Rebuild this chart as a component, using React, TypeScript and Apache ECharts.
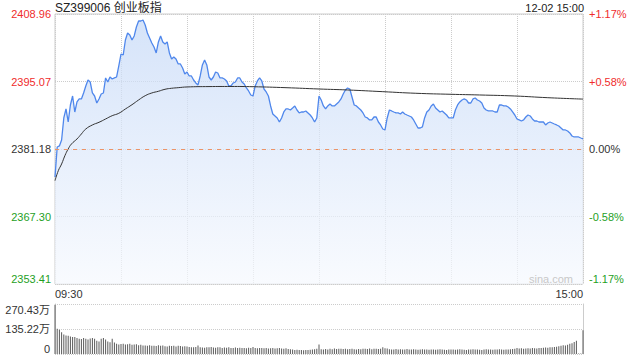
import React, { useEffect, useRef } from 'react';
import * as echarts from 'echarts';

const symbolTitle = 'SZ399006 创业板指';
const dateLabel = '12-02 15:00';
const watermark = 'sina.com';
const timeLabels = ['09:30', '15:00'];
const preClose = 2381.18;
const priceTicks = [2353.41, 2367.3, 2381.18, 2395.07, 2408.96];
const priceTickLabels = ['2353.41', '2367.30', '2381.18', '2395.07', '2408.96'];
const pctTickLabels = ['-1.17%', '-0.58%', '0.00%', '+0.58%', '+1.17%'];
const volTicks = [0, 135.215, 270.43];
const volTickLabels = ['0', '135.22万', '270.43万'];

const prices = [
  2375.43, 2381.6, 2381.81, 2383.04, 2387.57, 2389.42, 2386.74, 2390.24, 2392.09, 2388.8,
  2390.86, 2391.48, 2391.48, 2392.71, 2394.15, 2395.38, 2394.97, 2392.71, 2392.09, 2390.65,
  2391.48, 2392.5, 2392.71, 2395.8, 2394.97, 2396.0, 2395.59, 2395.8, 2396.0, 2398.27,
  2400.73, 2400.53, 2403.61, 2405.05, 2404.64, 2403.61, 2404.44, 2406.29, 2407.52, 2407.52,
  2407.73, 2406.7, 2405.05, 2404.03, 2403.0, 2402.17, 2400.94, 2403.2, 2404.44, 2403.2,
  2402.79, 2403.2, 2400.94, 2399.7, 2400.12, 2399.7, 2398.68, 2398.68, 2397.85, 2396.62,
  2397.03, 2396.21, 2396.21, 2395.38, 2394.77, 2394.36, 2396.21, 2398.47, 2399.5, 2398.47,
  2396.0, 2395.38, 2396.0, 2397.03, 2396.82, 2395.8, 2395.8, 2395.59, 2395.18, 2394.15,
  2394.15, 2394.77, 2394.97, 2395.8, 2395.8, 2394.97, 2394.56, 2393.74, 2393.12, 2392.3,
  2392.09, 2394.15, 2395.18, 2395.8, 2395.18, 2393.53, 2392.92, 2392.09, 2390.04, 2388.39,
  2387.98, 2387.57, 2386.74, 2387.57, 2388.8, 2389.42, 2389.42, 2389.21, 2389.62, 2390.04,
  2389.21, 2388.6, 2388.8, 2388.8, 2389.01, 2388.6, 2388.18, 2387.57, 2386.74, 2387.57,
  2392.09, 2391.27, 2390.04, 2389.42, 2390.04, 2390.45, 2390.04, 2390.04, 2390.45, 2390.86,
  2391.48, 2392.5, 2393.33, 2393.74, 2393.53, 2391.89, 2390.24, 2390.04, 2389.62, 2389.21,
  2388.6, 2387.77, 2387.57, 2387.16, 2387.16, 2387.77, 2387.77, 2386.74, 2386.13, 2385.3,
  2385.1, 2387.57, 2389.21, 2389.01, 2388.8, 2388.6, 2388.6, 2388.39, 2388.8, 2388.39,
  2388.18, 2387.98, 2387.77, 2387.16, 2386.33, 2385.51, 2385.51, 2385.72, 2387.57, 2388.8,
  2389.21, 2390.04, 2390.45, 2389.62, 2389.21, 2388.8, 2389.01, 2388.6, 2388.18, 2387.57,
  2387.57, 2387.57, 2389.21, 2390.24, 2390.86, 2391.27, 2391.48, 2391.27, 2390.65, 2390.65,
  2391.48, 2391.68, 2391.27, 2391.06, 2390.65, 2389.62, 2389.21, 2389.01, 2389.01, 2389.01,
  2388.8, 2388.8, 2390.24, 2390.24, 2390.04, 2390.04, 2389.83, 2389.42, 2388.8, 2388.18,
  2387.36, 2387.16, 2386.95, 2387.16, 2387.77, 2388.18, 2387.98, 2387.36, 2386.95, 2386.95,
  2386.74, 2386.74, 2386.74, 2386.13, 2386.54, 2386.74, 2386.54, 2386.33, 2386.13, 2385.92,
  2385.51, 2385.1, 2385.1, 2384.89, 2384.48, 2383.86, 2383.66, 2383.66, 2383.66, 2383.45,
  2383.25,
];

const avgMinutes = [0, 1.5, 3, 4.5, 6, 7.5, 10, 12, 14, 17, 20, 23, 26, 29, 32, 35, 38, 41, 44, 47, 50, 53, 56, 60, 70, 80, 90, 105, 120, 133, 149, 164, 180, 193, 209, 224, 240];
const avgPrices = [2374.67, 2376.72, 2378.1, 2379.81, 2381.19, 2382.22, 2383.25, 2384.28, 2385.3, 2386.13, 2386.68, 2387.36, 2388.04, 2388.53, 2389.42, 2390.3, 2391.27, 2392.15, 2392.71, 2393.06, 2393.47, 2393.68, 2393.8, 2393.95, 2394.03, 2394.05, 2394.0, 2393.8, 2393.53, 2393.33, 2392.98, 2392.65, 2392.44, 2392.3, 2392.09, 2391.74, 2391.45];

const volumes = [
  266, 136, 131, 118, 106, 100, 99, 94, 92, 92,
  87, 83, 81, 86, 83, 78, 84, 87, 82, 72,
  68, 83, 86, 78, 68, 63, 82, 62, 56, 52,
  54, 56, 52, 53, 55, 50, 51, 53, 48, 50,
  46, 46, 44, 47, 45, 45, 43, 48, 44, 46,
  42, 40, 44, 43, 45, 41, 44, 43, 40, 42,
  41, 38, 37, 36, 38, 46, 36, 35, 34, 37,
  36, 38, 35, 34, 36, 37, 33, 35, 34, 36,
  33, 32, 35, 33, 34, 32, 33, 31, 34, 33,
  38, 32, 31, 32, 33, 31, 32, 30, 31, 32,
  30, 31, 32, 30, 29, 31, 27, 26, 24, 22,
  23, 21, 22, 20, 22, 21, 23, 24, 26, 28,
  52, 26, 24, 27, 25, 28, 26, 30, 27, 28,
  29, 27, 28, 26, 27, 28, 26, 25, 27, 26,
  28, 29, 27, 30, 26, 28, 29, 27, 28, 36,
  31, 30, 26, 24, 25, 27, 25, 26, 24, 25,
  27, 25, 24, 26, 25, 23, 24, 26, 25, 24,
  23, 25, 24, 23, 25, 26, 24, 23, 22, 24,
  25, 24, 23, 25, 26, 24, 23, 22, 24, 25,
  26, 24, 25, 23, 22, 24, 26, 25, 24, 23,
  25, 24, 26, 25, 23, 24, 25, 26, 27, 28,
  33, 30, 31, 29, 30, 31, 30, 32, 31, 30,
  32, 33, 34, 35, 34, 36, 37, 38, 39, 42,
  44, 47, 46, 50, 55, 58, 65, 72, 3, 3,
  128,
];

const FONT = '"Liberation Sans", Arial, "Noto Sans CJK SC", sans-serif';
const RED = '#f02c2c';
const GREEN = '#1f9f1f';
const DARK = '#333333';
const GRID = '#cccccc';

const nearestIdx = (arr: number[], v: number) => {
  let best = 0;
  for (let i = 1; i < arr.length; i++) {
    if (Math.abs(arr[i] - v) < Math.abs(arr[best] - v)) best = i;
  }
  return best;
};
const tickColor = (v: any) => {
  const n = parseFloat(v);
  if (Math.abs(n - preClose) < 0.02) return DARK;
  return n > preClose ? RED : GREEN;
};

export default function App() {
  const ref = useRef<HTMLDivElement>(null);
  useEffect(() => {
    if (!ref.current) return;
    const chart = echarts.init(ref.current, undefined, { renderer: 'svg' });
    const pMin = priceTicks[0];
    const pMax = priceTicks[priceTicks.length - 1];
    const pInt = (pMax - pMin) / (priceTicks.length - 1);
    const vMax = volTicks[volTicks.length - 1];
    const option: any = {
      animation: false,
      textStyle: { fontFamily: FONT },
      graphic: [
        { type: 'text', x: 55, y: 8, style: { text: symbolTitle, fill: '#222', font: '12px ' + FONT, align: 'left', verticalAlign: 'middle' } },
        { type: 'text', x: 584, y: 8, style: { text: dateLabel, fill: '#222', font: '11px ' + FONT, align: 'right', verticalAlign: 'middle' } },
        { type: 'text', x: 573, y: 279, z: 10, style: { text: watermark, fill: '#c8c8c8', font: '11px ' + FONT, align: 'right', verticalAlign: 'middle' } },
      ],
      grid: [
        { left: 55, top: 14, width: 528, height: 270, show: true, borderColor: GRID, borderWidth: 1, backgroundColor: 'transparent' },
        { left: 55, top: 304, width: 528, height: 50 },
      ],
      xAxis: [
        {
          type: 'value', gridIndex: 0, min: 0, max: 240, interval: 30,
          axisLine: { show: false }, axisTick: { show: false },
          splitLine: { show: true, lineStyle: { color: GRID, type: 'dotted', width: 1 } },
          axisLabel: {
            margin: 4, fontSize: 11, color: DARK, fontFamily: FONT,
            formatter: (v: number) => (v === 0 ? timeLabels[0] : v === 240 ? timeLabels[1] : ''),
            alignMinLabel: 'left', alignMaxLabel: 'right',
          },
        },
        { type: 'value', gridIndex: 1, min: 0, max: 240, show: false },
      ],
      yAxis: [
        {
          type: 'value', gridIndex: 0, min: pMin, max: pMax, interval: pInt,
          axisLine: { show: false }, axisTick: { show: false },
          splitLine: { show: true, lineStyle: { color: GRID, type: 'dotted', width: 1 } },
          axisLabel: {
            margin: 4, fontSize: 11, fontFamily: FONT,
            formatter: (v: number) => priceTickLabels[nearestIdx(priceTicks, v)],
            color: tickColor,
            verticalAlignMinLabel: 'bottom', verticalAlignMaxLabel: 'top',
          },
        },
        {
          type: 'value', gridIndex: 0, position: 'right', min: pMin, max: pMax, interval: pInt,
          axisLine: { show: false }, axisTick: { show: false }, splitLine: { show: false },
          axisLabel: {
            margin: 6, fontSize: 11, fontFamily: FONT,
            formatter: (v: number) => pctTickLabels[nearestIdx(priceTicks, v)],
            color: tickColor,
            verticalAlignMinLabel: 'bottom', verticalAlignMaxLabel: 'top',
          },
        },
        {
          type: 'value', gridIndex: 1, min: 0, max: vMax, interval: vMax / 2,
          axisLine: { show: true, lineStyle: { color: GRID } }, axisTick: { show: false },
          splitLine: { show: true, lineStyle: { color: GRID, type: 'dotted', width: 1 } },
          axisLabel: {
            margin: 5, fontSize: 11, fontFamily: FONT, color: DARK,
            formatter: (v: number) => volTickLabels[nearestIdx(volTicks, v)],
            verticalAlignMinLabel: 'bottom', verticalAlignMaxLabel: 'top',
          },
        },
        {
          type: 'value', gridIndex: 1, position: 'right', min: 0, max: vMax, interval: vMax / 2,
          axisLine: { show: true, lineStyle: { color: GRID } }, axisTick: { show: false },
          splitLine: { show: false }, axisLabel: { show: false },
        },
      ],
      series: [
        {
          type: 'line', xAxisIndex: 0, yAxisIndex: 0,
          data: prices.map((p, i) => [i, p]),
          symbol: 'none', showSymbol: false,
          lineStyle: { color: '#4f87ec', width: 1.3 },
          areaStyle: {
            color: new echarts.graphic.LinearGradient(0, 0, 0, 1, [
              { offset: 0, color: '#c4d8f7' },
              { offset: 1, color: '#f6f9fe' },
            ]),
          },
          markLine: {
            silent: true, symbol: 'none', label: { show: false },
            lineStyle: { color: '#ec9468', type: [4, 5], width: 1, opacity: 1 },
            emphasis: { disabled: true },
            data: [{ yAxis: preClose }],
          },
          z: 2,
        },
        {
          type: 'line', xAxisIndex: 0, yAxisIndex: 0,
          data: avgMinutes.map((m, i) => [m, avgPrices[i]]),
          smooth: true, symbol: 'none', showSymbol: false,
          lineStyle: { color: '#333', width: 1 },
          z: 3,
        },
        {
          type: 'bar', xAxisIndex: 1, yAxisIndex: 2,
          data: volumes.map((v, i) => [i, v]),
          barWidth: 1, itemStyle: { color: '#5a5a5a' },
        },
      ],
    };
    chart.setOption(option);
    return () => chart.dispose();
  }, []);
  return <div ref={ref} style={{ position: 'absolute', left: 0, top: 0, width: 640, height: 360 }} />;
}
